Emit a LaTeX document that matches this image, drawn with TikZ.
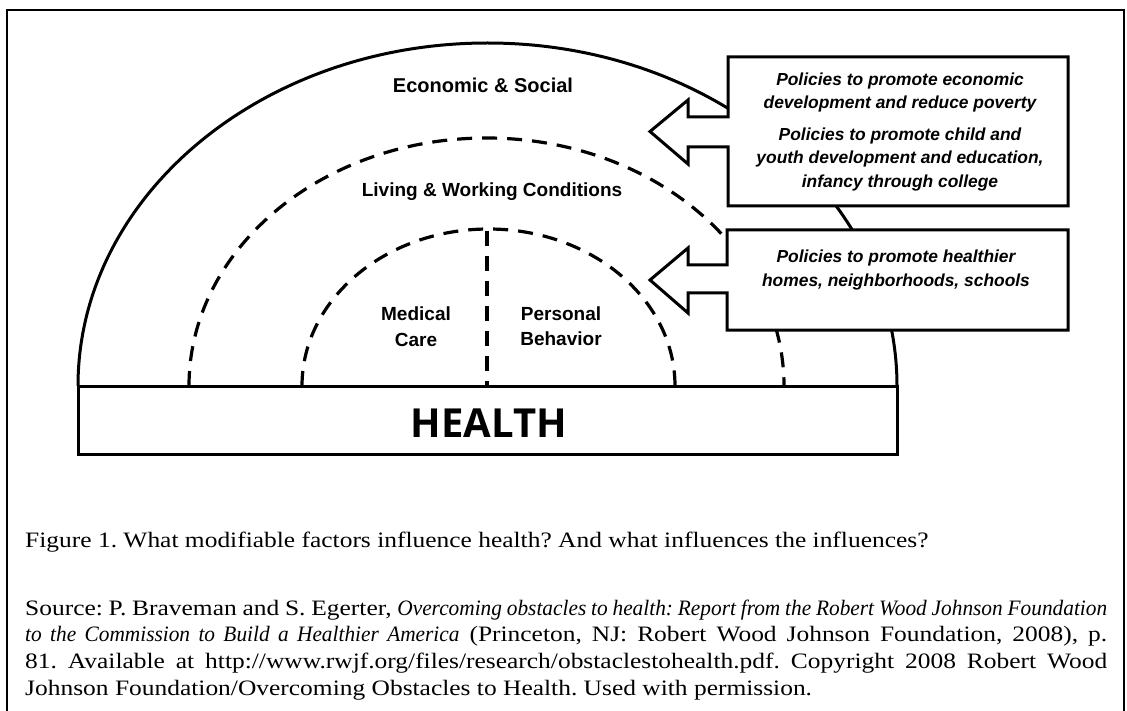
\documentclass[tikz,border=0pt]{standalone}
\usepackage{fontspec}
\setmainfont{Liberation Serif}[FakeStretch=1.157, ItalicFeatures={FakeStretch=0.97}]
\newfontfamily\arialfont{Liberation Sans}
\newfontfamily\healthfont{Open Sans}
\frenchspacing

\begin{document}
\begin{tikzpicture}[x=1pt, y=-1pt,
  solidline/.style={line width=3pt, line join=miter},
  dashline/.style={line width=3.2pt, dash pattern=on 15pt off 10pt},
  ringlabel/.style={font=\arialfont\bfseries\fontsize{19}{23}\selectfont, inner sep=0pt, anchor=base},
  policytext/.style={font=\arialfont\bfseries\itshape\fontsize{17.4}{21}\selectfont, inner sep=0pt, anchor=base},
  callout/.style={solidline, fill=white},
  captext/.style={font=\fontsize{22}{26.7}\selectfont, inner sep=0pt, anchor=base west}
]
\useasboundingbox (0,0) rectangle (1127,711);

% page frame (open at the bottom)
\draw[line width=1.4pt] (7,712) -- (7,10) -- (1124,10) -- (1124,712);

% outer solid ring: economic & social
\draw[solidline] (78,386) arc[start angle=180, end angle=360, x radius=409.5, y radius=343];
% middle dashed ring: living & working conditions
\draw[dashline] (189,386) arc[start angle=180, end angle=360, x radius=297.5, y radius=248];
% inner dashed ring, split in two halves
\draw[dashline] (302,386) arc[start angle=180, end angle=360, x radius=186.5, y radius=157];
\coordinate (splittop) at (487,231);
\coordinate (splitbot) at (487,386);
\draw[dashline] (splittop) -- (splitbot);

% base bar
\node[draw, line width=3pt, fill=white, minimum width=819pt, minimum height=68pt, inner sep=0pt]
  (healthbox) at (487.5,420) {};
\node[font=\healthfont\bfseries\fontsize{40}{44}\selectfont, inner sep=0pt, anchor=base]
  (health) at (489,437) {HEALTH};

% ring labels
\node[ringlabel, font=\arialfont\bfseries\fontsize{20}{24}\selectfont] (econ) at (483,93) {Economic \& Social};
\node[ringlabel] (living) at (492,197) {Living \& Working Conditions};
\node[ringlabel] (medical) at (416,320) {Medical};
\node[ringlabel] (care) at (416,346) {Care};
\node[ringlabel] (personal) at (561,320) {Personal};
\node[ringlabel] (behavior) at (561,345) {Behavior};

% policy callouts: box with a block arrow pointing left
\draw[callout] (728,57) -- (1068,57) -- (1068,206) -- (728,206) -- (728,147) -- (688,147)
  -- (688,164) -- (650,131.5) -- (688,100) -- (688,117) -- (728,117) -- cycle;
\draw[callout] (727,230) -- (1068,230) -- (1068,330) -- (727,330) -- (727,293) -- (688,293)
  -- (688,313) -- (650,280) -- (688,248) -- (688,265) -- (727,265) -- cycle;

\node[policytext] (pa1) at (900,86) {Policies to promote economic};
\node[policytext] (pa2) at (900,109) {development and reduce poverty};
\node[policytext] (pb1) at (900,141) {Policies to promote child and};
\node[policytext] (pb2) at (900,164) {youth development and education,};
\node[policytext] (pb3) at (900,188) {infancy through college};
\node[policytext] (pc1) at (896,263) {Policies to promote healthier};
\node[policytext] (pc2) at (896,287) {homes, neighborhoods, schools};

% caption and source
\node[captext] (caption) at (25,547) {Figure 1. What modifiable factors influence health? And what influences the influences?};
\node[captext] (src1) at (25,615) {\makebox[1082pt][s]{Source: P. Braveman and S. Egerter, \textit{Overcoming obstacles to health: Report from the Robert Wood Johnson Foundation}}};
\node[captext] (src2) at (25,641.7) {\makebox[1082pt][s]{\textit{to the Commission to Build a Healthier America} (Princeton, NJ: Robert Wood Johnson Foundation, 2008), p.}};
\node[captext] (src3) at (25,668.4) {\makebox[1082pt][s]{81. Available at http://www.rwjf.org/files/research/obstaclestohealth.pdf. Copyright 2008 Robert Wood}};
\node[captext] (src4) at (25,695) {Johnson Foundation/Overcoming Obstacles to Health. Used with permission.};
\end{tikzpicture}
\end{document}
